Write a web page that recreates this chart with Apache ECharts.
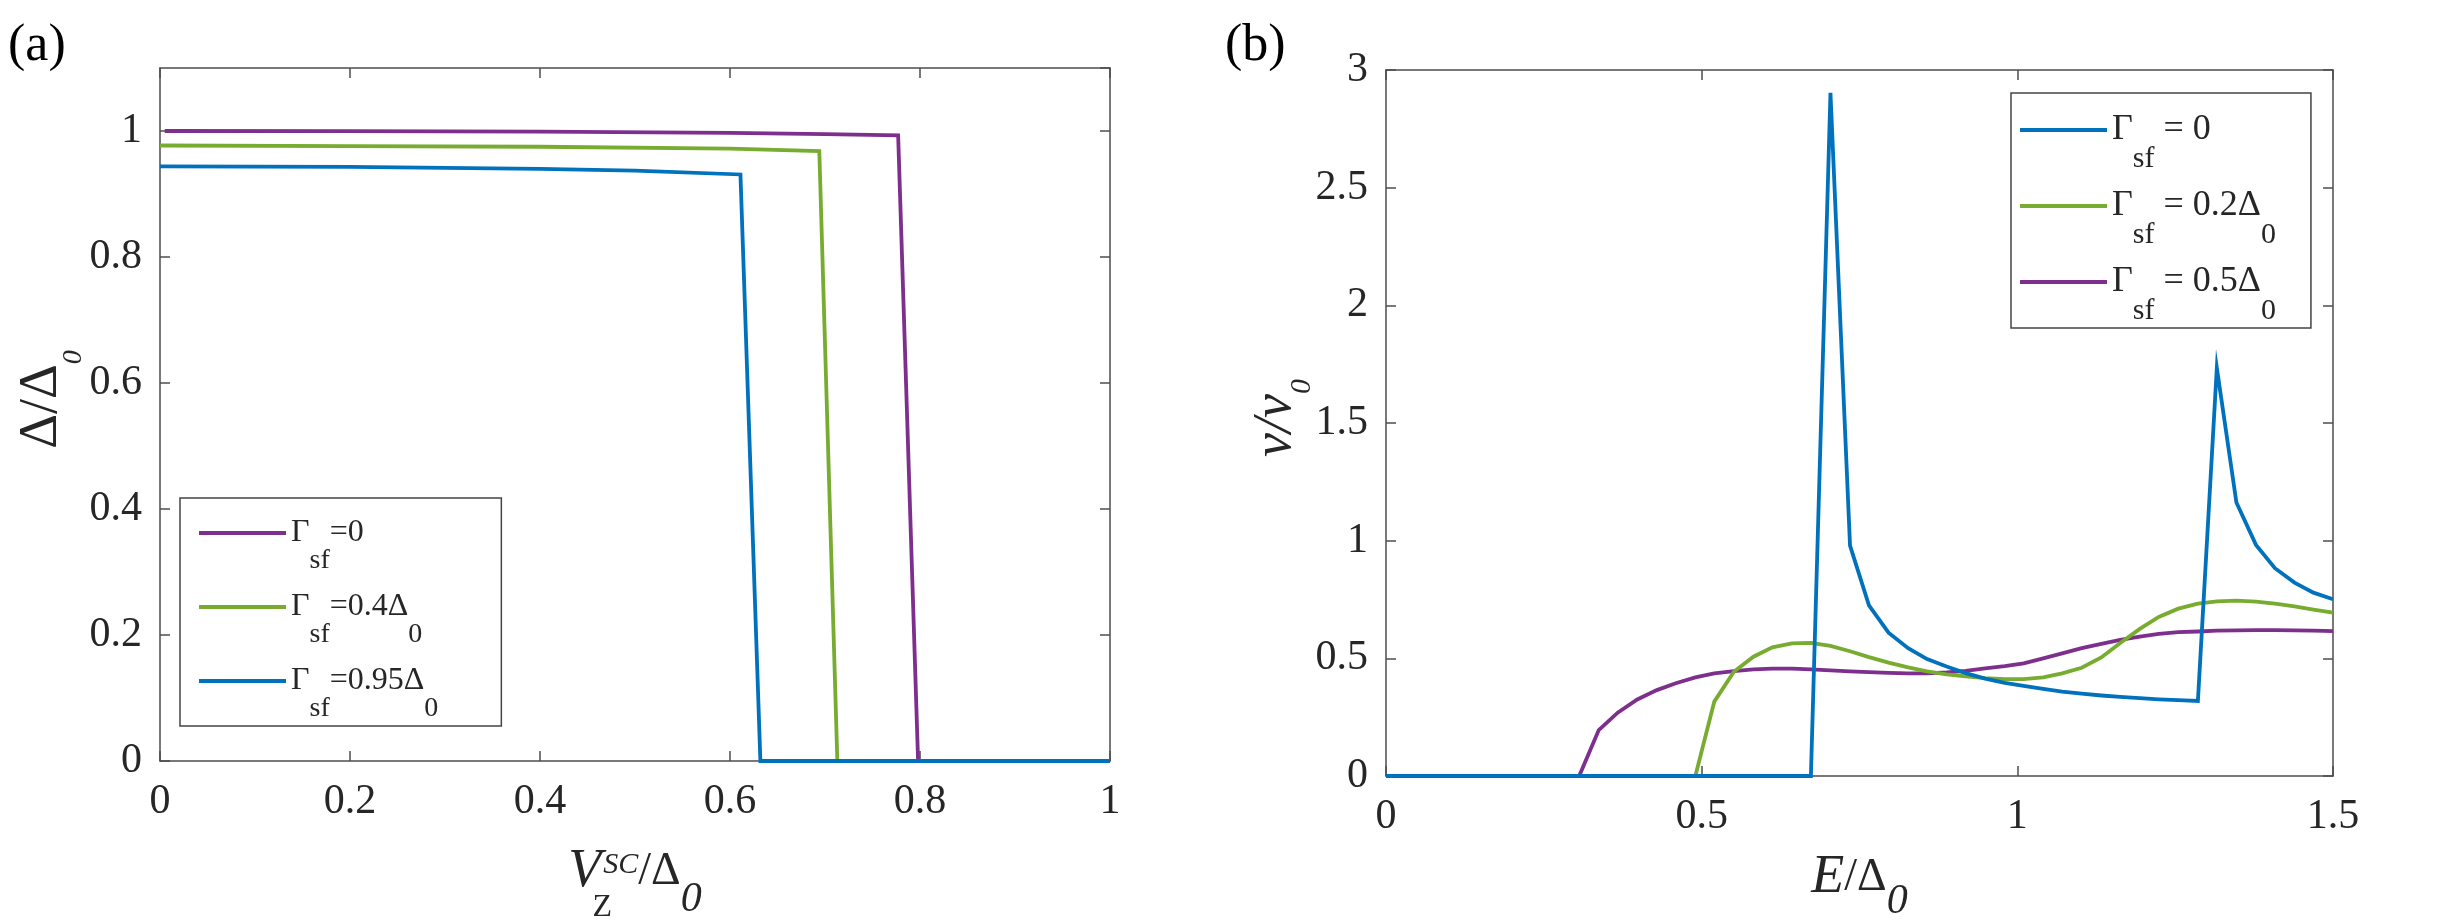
<!DOCTYPE html>
<html>
<head>
<meta charset="utf-8" />
<title>Gap and DOS</title>
<script src="https://cdn.jsdelivr.net/npm/echarts@6/dist/echarts.min.js"></script>
</head>
<body style="margin:0;background:#fff;">
<div id="main" style="width:2451px;height:921px;"></div>
<script type="text/javascript">
// ---- panel (a): Delta/Delta0 vs V_Z^SC/Delta0 ----
var vzA0 = [0.005, 0.2, 0.4, 0.6, 0.7, 0.777, 0.798, 1.0];
var gapA0 = [1.0, 0.9998, 0.999, 0.997, 0.995, 0.993, 0, 0];
var vzA4 = [0, 0.2, 0.4, 0.6, 0.694, 0.713, 1.0];
var gapA4 = [0.977, 0.976, 0.975, 0.972, 0.968, 0, 0];
var vzA95 = [0, 0.2, 0.4, 0.5, 0.611, 0.632, 1.0];
var gapA95 = [0.944, 0.943, 0.940, 0.937, 0.931, 0, 0];
var namesA = ['Γsf=0', 'Γsf=0.4Δ0', 'Γsf=0.95Δ0'];

// ---- panel (b): nu/nu0 vs E/Delta0 ----
var eVals = [0, 0.031, 0.061, 0.092, 0.122, 0.153, 0.184, 0.214, 0.245, 0.276,
  0.306, 0.337, 0.367, 0.398, 0.429, 0.459, 0.490, 0.520, 0.551, 0.582,
  0.612, 0.643, 0.673, 0.704, 0.735, 0.765, 0.796, 0.827, 0.857, 0.888,
  0.918, 0.949, 0.980, 1.010, 1.041, 1.071, 1.102, 1.133, 1.163, 1.194,
  1.224, 1.255, 1.286, 1.316, 1.347, 1.378, 1.408, 1.439, 1.469, 1.500];
var dosB0 = [0, 0, 0, 0, 0, 0, 0, 0, 0, 0,
  0, 0, 0, 0, 0, 0, 0, 0, 0, 0,
  0, 0, 0, 2.903, 0.979, 0.725, 0.609, 0.543, 0.497, 0.465,
  0.437, 0.414, 0.396, 0.383, 0.370, 0.359, 0.350, 0.342, 0.336, 0.331,
  0.326, 0.322, 0.319, 1.734, 1.162, 0.982, 0.883, 0.822, 0.779, 0.751];
var dosB2 = [0, 0, 0, 0, 0, 0, 0, 0, 0, 0,
  0, 0, 0, 0, 0, 0, 0, 0.316, 0.443, 0.507,
  0.547, 0.564, 0.566, 0.553, 0.530, 0.505, 0.482, 0.462, 0.445, 0.432,
  0.423, 0.416, 0.412, 0.412, 0.419, 0.436, 0.460, 0.504, 0.565, 0.625,
  0.676, 0.711, 0.732, 0.742, 0.745, 0.741, 0.732, 0.721, 0.707, 0.694];
var dosB5 = [0, 0, 0, 0, 0, 0, 0, 0, 0, 0,
  0, 0.195, 0.269, 0.325, 0.365, 0.394, 0.419, 0.436, 0.446, 0.453,
  0.456, 0.456, 0.453, 0.449, 0.445, 0.441, 0.438, 0.436, 0.436, 0.440,
  0.447, 0.457, 0.467, 0.479, 0.500, 0.521, 0.543, 0.561, 0.578, 0.592,
  0.604, 0.611, 0.614, 0.618, 0.619, 0.620, 0.620, 0.619, 0.618, 0.616];
var namesB = ['Γsf = 0', 'Γsf = 0.2Δ0', 'Γsf = 0.5Δ0'];

var BLUE = '#0072BD', GREEN = '#77AC30', PURPLE = '#7E2F8E';
var FONT = "'Liberation Serif', 'Times New Roman', serif";
var AXIS_COLOR = '#4d4d4d';
var TEXT_COLOR = '#262626';
var LINE_ICON = 'path://M0,0H87V4H0Z';

function pairs(xs, ys) {
  return xs.map(function (x, i) { return [x, ys[i]]; });
}
function legendText(name) {
  return name.replace('sf', '{s|sf}').replace('Δ0', 'Δ{s|0}');
}

function lineSeries(name, color, data, axisIdx) {
  return {
    type: 'line', name: name, data: data,
    xAxisIndex: axisIdx, yAxisIndex: axisIdx,
    symbol: 'none', showSymbol: false, animation: false,
    lineStyle: { color: color, width: 3.8, join: 'miter', cap: 'butt' },
    itemStyle: { color: color },
    emphasis: { disabled: true }
  };
}

// axis with labels (bottom/left) or a mirror axis (top/right) with inward ticks only
function axis(grid, pos, min, max, step, withLabels, extra) {
  var a = {
    gridIndex: grid, type: 'value', position: pos, min: min, max: max, interval: step,
    splitLine: { show: false },
    axisLine: { show: true, onZero: false, lineStyle: { color: AXIS_COLOR, width: 1.5 } },
    axisTick: { show: true, inside: true, length: 10, lineStyle: { color: AXIS_COLOR, width: 1.5 } },
    axisLabel: { show: withLabels, fontFamily: FONT, fontSize: 42, color: TEXT_COLOR,
                 margin: (pos === 'bottom' ? 20 : 18), showMaxLabel: true, showMinLabel: true },
    nameMoveOverlap: false
  };
  for (var k in extra) a[k] = extra[k];
  return a;
}

var myChart = echarts.init(document.getElementById('main'));

// rich text piece; top padding pushes it down (subscript), bottom padding lifts it
var txt = function (size, pad, italic) {
  var s = { fontFamily: FONT, fontSize: size, fontStyle: italic ? 'italic' : 'normal',
            color: TEXT_COLOR };
  if (pad) s.padding = pad;
  return s;
};

var option = {
  backgroundColor: '#fff',
  animation: false,
  grid: [
    { left: 160, top: 68, width: 950, height: 693, outerBoundsMode: 'none' },
    { left: 1386, top: 70, width: 947, height: 706, outerBoundsMode: 'none' }
  ],
  xAxis: [
    axis(0, 'bottom', 0, 1, 0.2, true, {
      name: '{v|V}{z|Z}{sc|SC}{m|/Δ}{o|0}',
      nameLocation: 'middle', nameGap: 81,
      nameTextStyle: { lineHeight: 60, rich: {
        v: txt(54, null, true),
        z: { fontFamily: FONT, fontSize: 32, color: TEXT_COLOR, padding: [72, 0, 0, 0], width: 2 },
        sc: txt(30, [0, 0, 13, 0], true),
        m: txt(46, null, false),
        o: txt(42, [55, 0, 0, 0], true)
      } }
    }),
    axis(0, 'top', 0, 1, 0.2, false, {}),
    axis(1, 'bottom', 0, 1.5, 0.5, true, {
      name: '{e|E}{m|/Δ}{o|0}',
      nameLocation: 'middle', nameGap: 72,
      nameTextStyle: { lineHeight: 60, rich: {
        e: txt(54, null, true),
        m: txt(46, null, false),
        o: txt(42, [47, 0, 0, 0], true)
      } }
    }),
    axis(1, 'top', 0, 1.5, 0.5, false, {})
  ],
  yAxis: [
    axis(0, 'left', 0, 1.1, 0.2, true, {
      name: '{d|Δ/Δ}{o|0}',
      nameLocation: 'middle', nameGap: 88, nameRotate: 90,
      nameTextStyle: { lineHeight: 60, padding: [0, 0, 0, 30], rich: {
        d: txt(54, null, false),
        o: txt(28, [64, 0, 0, 0], true)
      } }
    }),
    axis(0, 'right', 0, 1.1, 0.2, false, {}),
    axis(1, 'left', 0, 3, 0.5, true, {
      name: '{n|ν/ν}{o|0}',
      nameLocation: 'middle', nameGap: 80, nameRotate: 90,
      nameTextStyle: { lineHeight: 60, padding: [0, 0, 0, 10], rich: {
        n: txt(54, null, true),
        o: txt(30, [52, 0, 0, 0], true)
      } }
    }),
    axis(1, 'right', 0, 3, 0.5, false, {})
  ],
  legend: [
    {
      data: namesA, orient: 'vertical', left: 180, top: 498,
      padding: [3, 63, 3, 19], itemGap: 0, itemWidth: 87, itemHeight: 4,
      icon: LINE_ICON,
      borderColor: '#444', borderWidth: 1.5, backgroundColor: '#fff',
      selectedMode: false, formatter: legendText,
      textStyle: { fontFamily: FONT, fontSize: 32, lineHeight: 64, color: TEXT_COLOR,
                   rich: { s: txt(28, [56, 0, 0, 0], false) } }
    },
    {
      data: namesB, orient: 'vertical', left: 2011, top: 93,
      padding: [5, 35, 2, 9], itemGap: 0, itemWidth: 87, itemHeight: 4,
      icon: LINE_ICON,
      borderColor: '#444', borderWidth: 1.5, backgroundColor: '#fff',
      selectedMode: false, formatter: legendText,
      textStyle: { fontFamily: FONT, fontSize: 36, lineHeight: 64, color: TEXT_COLOR,
                   rich: { s: txt(30, [58, 0, 0, 0], false) } }
    }
  ],
  graphic: [
    { type: 'text', left: 8, top: 20, style: { text: '(a)', font: '52px "Liberation Serif"', fill: '#000' } },
    { type: 'text', left: 1225, top: 20, style: { text: '(b)', font: '52px "Liberation Serif"', fill: '#000' } }
  ],
  series: [
    lineSeries(namesA[0], PURPLE, pairs(vzA0, gapA0), 0),
    lineSeries(namesA[1], GREEN, pairs(vzA4, gapA4), 0),
    lineSeries(namesA[2], BLUE, pairs(vzA95, gapA95), 0),
    lineSeries(namesB[2], PURPLE, pairs(eVals, dosB5), 2),
    lineSeries(namesB[1], GREEN, pairs(eVals, dosB2), 2),
    lineSeries(namesB[0], BLUE, pairs(eVals, dosB0), 2)
  ]
};
// hide the 1.1 end label on the left axis of panel (a)
option.yAxis[0].axisLabel.showMaxLabel = false;

myChart.setOption(option);
</script>
</body>
</html>
